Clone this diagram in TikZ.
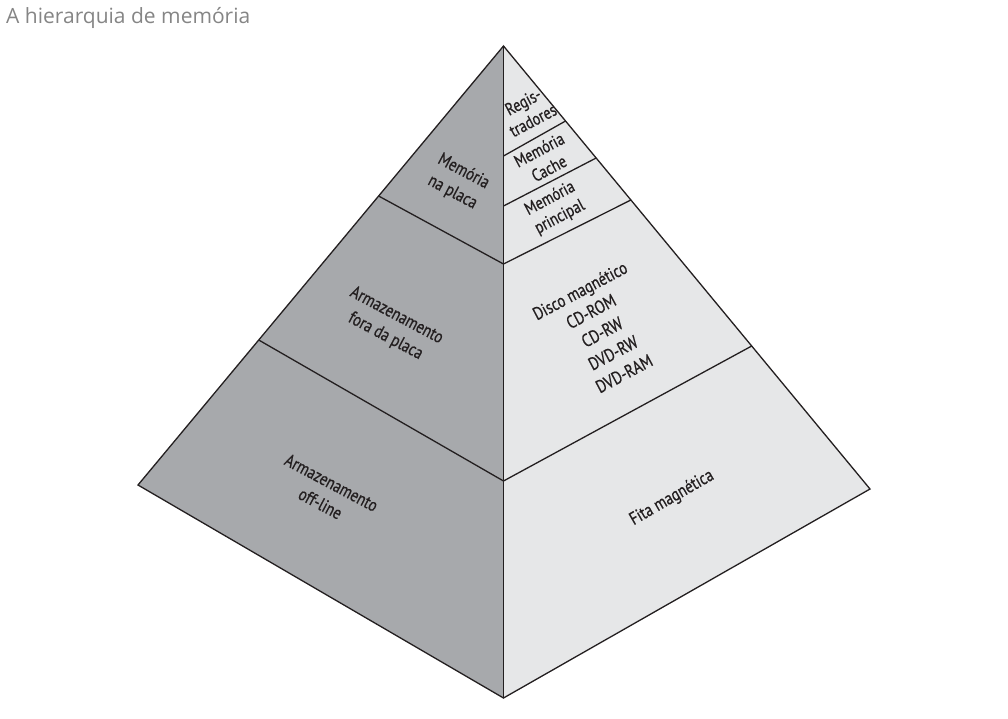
\documentclass[tikz,border=0pt]{standalone}
\usepackage{fontspec}
\setmainfont{Open Sans}
\newfontfamily\cond[FakeStretch=0.82, FakeBold=0.6]{PT Sans}
\usetikzlibrary{calc}
\definecolor{ink}{HTML}{231F20}
\definecolor{faceL}{HTML}{A7A9AC}
\definecolor{faceR}{HTML}{E6E7E8}
\definecolor{titlegray}{HTML}{858585}
\tikzset{
  edge/.style={draw=ink, line width=1.3pt, line join=miter},
  lbl/.style={text=ink, align=center, inner sep=0pt,
    font=\cond\fontsize{18}{23.5}\selectfont},
}
\begin{document}
\begin{tikzpicture}[x=1pt, y=-1pt]
\useasboundingbox (0,0) rectangle (1008,718);
% pyramid corners
\coordinate (A) at (503.5,46);
\coordinate (L) at (138,485);
\coordinate (R) at (870,489);
\coordinate (B) at (503.5,698);
% faces
\fill[faceL] (A) -- (L) -- (B) -- cycle;
\fill[faceR] (A) -- (R) -- (B) -- cycle;
% band boundaries, left face
\coordinate (l1) at ($(A)!0.3417!(L)$);
\coordinate (l2) at ($(A)!0.6697!(L)$);
\coordinate (c1) at (503.5,264);
\coordinate (c2) at (503.5,481);
\draw[edge] (l1) -- (c1);
\draw[edge] (l2) -- (c2);
% band boundaries, right face
\coordinate (r1) at ($(A)!0.1693!(R)$);
\coordinate (r2) at ($(A)!0.2528!(R)$);
\coordinate (r3) at ($(A)!0.3476!(R)$);
\coordinate (r4) at ($(A)!0.6772!(R)$);
\coordinate (m1) at (503.5,156);
\coordinate (m2) at (503.5,206);
\draw[edge] (m1) -- (r1);
\draw[edge] (m2) -- (r2);
\draw[edge] (c1) -- (r3);
\draw[edge] (c2) -- (r4);
% outline and central edge
\draw[edge] (A) -- (L) -- (B) -- (R) -- cycle;
\draw[edge] (A) -- (B);
% title
\node[anchor=west, text=titlegray, font=\fontsize{21}{24}\selectfont, inner sep=0pt] (title) at (6,18) {A hierarquia de memória};
% left face labels
\node[lbl, rotate=-28] (naplaca) at (458,182) {Memória\\na placa};
\node[lbl, rotate=-28] (foraplaca) at (391,326) {Armazenamento\\fora da placa};
\node[lbl, rotate=-28] (offline) at (326,493) {Armazenamento\\off-line};
% right face labels
\node[lbl, rotate=28, font=\cond\fontsize{17.5}{21}\selectfont] (regs) at (528,111) {Regis-\\tradores};
\node[lbl, rotate=28, font=\cond\fontsize{17.5}{21}\selectfont] (cache) at (544,159) {Memória\\Cache};
\node[lbl, rotate=28, font=\cond\fontsize{17.5}{21}\selectfont] (principal) at (555,208) {Memória\\principal};
\node[lbl, rotate=28] (disco) at (602,332) {Disco magnético\\CD-ROM\\CD-RW\\DVD-RW\\DVD-RAM};
\node[lbl, rotate=30] (fita) at (672,498) {Fita magnética};
\end{tikzpicture}
\end{document}
